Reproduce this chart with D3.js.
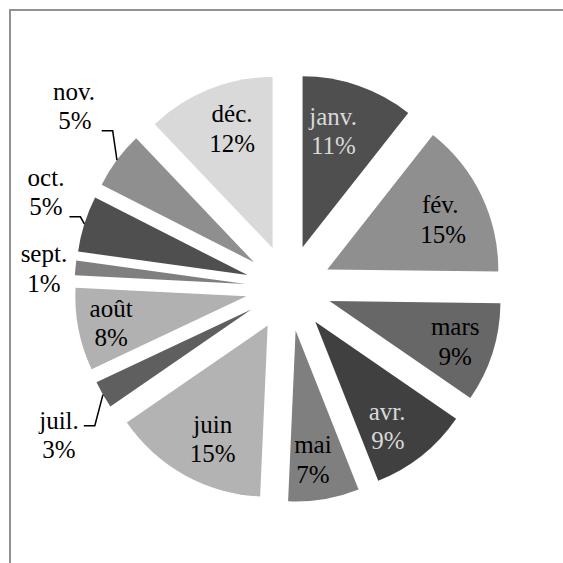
<!DOCTYPE html>
<html>
<head>
<meta charset="utf-8">
<script src="https://cdn.jsdelivr.net/npm/d3@7"></script>
</head>
<body style="margin:0">
<svg id="chart" width="563" height="563"></svg>
<script>
// ---- data ----
const months = ["janv.", "fév.", "mars", "avr.", "mai", "juin", "juil.", "août", "sept.", "oct.", "nov.", "déc."];
const values = [10.6, 14.6, 9.4, 9.4, 6.7, 14.7, 2.6, 7.8, 1.4, 5.3, 5.4, 12.1];
const sliceColors = ["#4f4f4f", "#8f8f8f", "#676767", "#404040", "#7f7f7f", "#b3b3b3",
                     "#5f5f5f", "#b1b1b1", "#7f7f7f", "#4f4f4f", "#8f8f8f", "#d9d9d9"];
const labelColors = ["#d9d9d9", "#000", "#000", "#d9d9d9", "#000", "#000",
                     "#000", "#000", "#000", "#000", "#000", "#000"];

// ---- layout ----
const layout = {
  cx: 288.5, cy: 288, radius: 171, explode: 43,
  fontSize: 25, lineGap: 29.5,
  // label placement: distance from the slice apex and angular shift (deg) from the bisector
  labelDist:  [120.6, 126.2, 131.9, 127, 130.2, 125.9, 229.4, 137.7, 202.4, 218, 237.9, 126.3],
  labelShift: [-4.0, 2.1, 0, 3.7, 1.9, -3.1, -3.2, 0.2, -0.9, 5, 4.4, 3.1]
};

// approximate serif advance widths (em) used to centre and size label boxes
const advance = { j: .278, i: .278, l: .278, t: .278, ".": .25, s: .389, c: .444, e: .444, a: .444,
                  "é": .444, r: .333, "%": .833, m: .778 };
function textWidth(s) {
  let w = 0;
  for (const ch of s) w += (advance[ch] !== undefined ? advance[ch] : 0.5);
  return w * layout.fontSize;
}

const svg = d3.select("#chart");

// frame
svg.append("path")
  .attr("d", "M10,570 V10 H570")
  .attr("fill", "none")
  .attr("stroke", "#929292")
  .attr("stroke-width", 2);

const total = d3.sum(values);
const fmt = d3.format(".0%");
const rows = months.map((m, i) => ({ month: m, value: values[i], i }));

const pie = d3.pie().sort(null).value(d => d.value);
const arcs = pie(rows);
const arc = d3.arc().innerRadius(0).outerRadius(layout.radius);

function polar(r, a) { return [r * Math.sin(a), -r * Math.cos(a)]; }

arcs.forEach(d => {
  d.mid = (d.startAngle + d.endAngle) / 2;
  d.apex = polar(layout.explode, d.mid);
});

const g = svg.append("g").attr("transform", `translate(${layout.cx},${layout.cy})`);

g.selectAll("path.slice")
  .data(arcs)
  .join("path")
  .attr("class", "slice")
  .attr("transform", d => `translate(${d.apex[0]},${d.apex[1]})`)
  .attr("d", arc)
  .attr("fill", d => sliceColors[d.data.i]);

// labels: one text element per line, left-positioned from estimated width
arcs.forEach(d => {
  const i = d.data.i;
  const a = d.mid + layout.labelShift[i] * Math.PI / 180;
  const p = polar(layout.labelDist[i], a);
  const x = layout.cx + d.apex[0] + p[0];
  const y = layout.cy + d.apex[1] + p[1];
  d.lx = x; d.ly = y;
  d.outside = layout.labelDist[i] > layout.radius;
  const lines = [d.data.month, fmt(d.data.value / total)];
  d.w = d3.max(lines, textWidth);
  lines.forEach((s, k) => {
    svg.append("text")
      .attr("x", x - textWidth(s) / 2)
      .attr("y", y - 6 + k * layout.lineGap)
      .style("font-family", "Liberation Serif")
      .attr("font-size", layout.fontSize)
      .attr("fill", labelColors[i])
      .text(s);
  });
});

// leader lines for outside labels placed away from their slice
arcs.filter(d => d.outside).forEach(d => {
  const ap = polar(layout.radius, d.mid);
  const ax = layout.cx + d.apex[0] + ap[0], ay = layout.cy + d.apex[1] + ap[1];
  const left = d.lx - d.w / 2, right = d.lx + d.w / 2;
  const top = d.ly - 29, bottom = d.ly + 29;
  const dx = Math.max(left - ax, 0, ax - right);
  const dy = Math.max(top - ay, 0, ay - bottom);
  const gap = Math.hypot(dx, dy);
  if (gap > 12) {
    const ly = Math.min(Math.max(ay, top + 20), bottom - 4);
    const x0 = right + 5;
    svg.append("path")
      .attr("d", d3.line()([[x0, ly], [x0 + 11, ly], [ax, ay]]))
      .attr("fill", "none")
      .attr("stroke", "#000")
      .attr("stroke-width", 1.5);
  }
});
</script>
</body>
</html>
